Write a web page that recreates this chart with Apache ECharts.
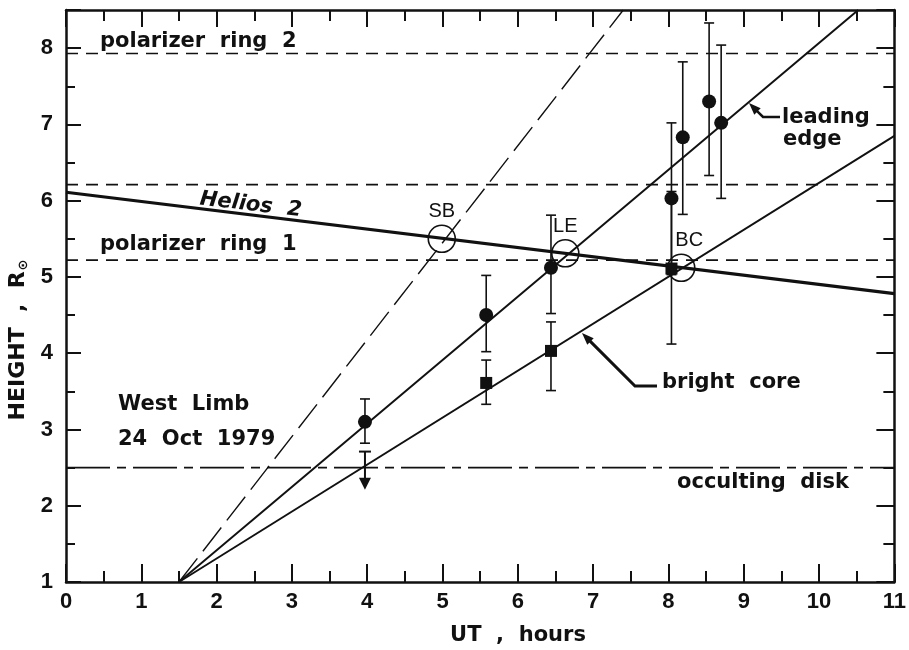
<!DOCTYPE html>
<html>
<head>
<meta charset="utf-8">
<script src="https://cdn.jsdelivr.net/npm/echarts@6/dist/echarts.min.js"></script>
<style>
  html, body { margin: 0; padding: 0; background: #fff; }
  #chart { width: 909px; height: 650px; }
</style>
</head>
<body>
<div id="chart"></div>
<script>
// Axis ranges
const xRange = [0, 11];
const yRange = [1, 8.5];

// Leading edge measurements (filled circles) with error bars
const edgeX  = [3.97, 5.58, 6.44, 8.04, 8.19, 8.54, 8.70];
const edgeY  = [3.10, 4.50, 5.12, 6.03, 6.83, 7.30, 7.02];
const edgeLo = [2.82, 4.02, 4.52, 5.03, 5.82, 6.33, 6.03];
const edgeHi = [3.40, 5.02, 5.81, 7.02, 7.82, 8.33, 8.04];

// Bright core measurements (filled squares) with error bars
const coreX  = [5.58, 6.44, 8.04];
const coreY  = [3.61, 4.03, 5.11];
const coreLo = [3.33, 3.51, 4.12];
const coreHi = [3.91, 4.41, 6.12];

// Upper limit at the earliest time
const limitX   = [3.97];
const limitTop = [2.71];
const limitTip = [2.21];

// Fitted trajectories, all starting from the same origin
const fitOrigin = [1.5, 1.0];
const sbEnd   = [7.40, 8.5];
const edgeEnd = [10.52, 8.5];
const coreEnd = [11.0, 6.85];

// Helios 2 line of sight
const heliosX = [0, 11];
const heliosY = [6.11, 4.78];

// Horizontal reference heights
const ring2Y     = 7.93;
const upperDashY = 6.21;
const ring1Y     = 5.22;
const occultY    = 2.50;

// Crossing points with the Helios 2 line
const crossNames = ['SB', 'LE', 'BC'];
const crossX = [4.99, 6.63, 8.17];
const crossY = [5.50, 5.31, 5.12];

const INK = '#111';
const LABEL_FONT = '"DejaVu Sans", sans-serif';
const NUM_FONT = '"Liberation Sans", Arial, sans-serif';

const chart = echarts.init(document.getElementById('chart'), null, { renderer: 'canvas' });

function hLine(y, dash, width) {
  return {
    type: 'line', silent: true, symbol: 'none', z: 2,
    data: [[xRange[0], y], [xRange[1], y]],
    lineStyle: { color: INK, width: width, type: dash }
  };
}

function fitLine(end, dash, width) {
  return {
    type: 'line', silent: true, symbol: 'none', z: 3,
    data: [fitOrigin, end],
    lineStyle: { color: INK, width: width, type: dash }
  };
}

function errorBarItem(params, api) {
  const x = api.value(0);
  const pLo = api.coord([x, api.value(1)]);
  const pHi = api.coord([x, api.value(2)]);
  const hw = 5;
  const st = { stroke: INK, lineWidth: 1.6 };
  return {
    type: 'group',
    children: [
      { type: 'line', shape: { x1: pLo[0], y1: pLo[1], x2: pHi[0], y2: pHi[1] }, style: st },
      { type: 'line', shape: { x1: pLo[0] - hw, y1: pLo[1], x2: pLo[0] + hw, y2: pLo[1] }, style: st },
      { type: 'line', shape: { x1: pHi[0] - hw, y1: pHi[1], x2: pHi[0] + hw, y2: pHi[1] }, style: st }
    ]
  };
}

function limitItem(params, api) {
  const x = api.value(0);
  const pTop = api.coord([x, api.value(1)]);
  const pTip = api.coord([x, api.value(2)]);
  const hw = 6, head = 12;
  return {
    type: 'group',
    children: [
      { type: 'line', shape: { x1: pTop[0], y1: pTop[1], x2: pTip[0], y2: pTip[1] - head + 1 },
        style: { stroke: INK, lineWidth: 2 } },
      { type: 'line', shape: { x1: pTop[0] - hw, y1: pTop[1], x2: pTop[0] + hw, y2: pTop[1] },
        style: { stroke: INK, lineWidth: 2 } },
      { type: 'polygon', shape: { points: [[pTip[0], pTip[1]], [pTip[0] - 6, pTip[1] - head], [pTip[0] + 6, pTip[1] - head]] },
        style: { fill: INK } }
    ]
  };
}

// Arrow annotation: polyline ending in a filled arrowhead
function arrow(points, width) {
  const n = points.length;
  const tip = points[n - 1], prev = points[n - 2];
  const dx = tip[0] - prev[0], dy = tip[1] - prev[1];
  const len = Math.hypot(dx, dy);
  const ux = dx / len, uy = dy / len;
  const L = 12, W = 4.5;
  const bx = tip[0] - ux * L, by = tip[1] - uy * L;
  const shaft = points.slice(0, n - 1).concat([[tip[0] - ux * (L - 2), tip[1] - uy * (L - 2)]]);
  return [
    { type: 'polyline', shape: { points: shaft }, style: { stroke: INK, lineWidth: width, fill: null }, z: 50 },
    { type: 'polygon', shape: { points: [tip, [bx - uy * W, by + ux * W], [bx + uy * W, by - ux * W]] },
      style: { fill: INK }, z: 50 }
  ];
}

function label(text, x, y, extra) {
  return Object.assign({
    type: 'text', x: x, y: y, z: 60,
    style: {
      text: text, fill: INK,
      font: 'bold 21px ' + LABEL_FONT,
      textAlign: 'left', textVerticalAlign: 'middle'
    }
  }, extra || {});
}

const baseAxis = {
  type: 'value',
  splitLine: { show: false },
  axisLine: { show: true, onZero: false, lineStyle: { color: INK, width: 2.5 } },
  axisTick: { show: true, inside: true, lineStyle: { color: INK, width: 2 } },
  minorTick: { show: true, splitNumber: 2, lineStyle: { color: INK, width: 2 } },
  axisLabel: { color: INK, fontFamily: NUM_FONT, fontWeight: 'bold', fontSize: 22 }
};

function axis(extra) {
  return echarts.util.merge(echarts.util.clone(baseAxis), extra, true);
}

const option = {
  animation: false,
  backgroundColor: '#fff',
  grid: { left: 66, right: 13, top: 10, bottom: 68, containLabel: false },
  xAxis: [
    axis({ position: 'bottom', min: xRange[0], max: xRange[1], interval: 1,
      axisTick: { length: 18 }, minorTick: { length: 11 }, axisLabel: { margin: 9 } }),
    axis({ position: 'top', min: xRange[0], max: xRange[1], interval: 1,
      axisTick: { length: 17 }, minorTick: { length: 11 }, axisLabel: { show: false } })
  ],
  yAxis: [
    axis({ position: 'left', min: yRange[0], max: yRange[1], interval: 1,
      axisTick: { length: 15 }, minorTick: { length: 9 },
      axisLabel: { margin: 13, showMaxLabel: false } }),
    axis({ position: 'right', min: yRange[0], max: yRange[1], interval: 1,
      axisTick: { length: 18 }, minorTick: { length: 11 }, axisLabel: { show: false } })
  ],
  series: [
    hLine(ring2Y, [12, 8], 1.6),
    hLine(upperDashY, [12, 8], 1.6),
    hLine(ring1Y, [12, 8], 1.6),
    hLine(occultY, [44, 7, 9, 7], 1.6),
    fitLine(sbEnd, [30, 9], 1.4),
    fitLine(edgeEnd, 'solid', 1.9),
    fitLine(coreEnd, 'solid', 1.9),
    {
      type: 'line', silent: true, symbol: 'none', z: 4,
      data: heliosX.map((x, i) => [x, heliosY[i]]),
      lineStyle: { color: INK, width: 3.2 }
    },
    {
      type: 'custom', silent: true, z: 5,
      renderItem: errorBarItem,
      data: edgeX.map((x, i) => [x, edgeLo[i], edgeHi[i]])
    },
    {
      type: 'custom', silent: true, z: 5,
      renderItem: errorBarItem,
      data: coreX.map((x, i) => [x, coreLo[i], coreHi[i]])
    },
    {
      type: 'custom', silent: true, z: 5,
      renderItem: limitItem,
      data: limitX.map((x, i) => [x, limitTop[i], limitTip[i]])
    },
    {
      type: 'scatter', silent: true, z: 6,
      symbol: 'circle', symbolSize: 14,
      itemStyle: { color: INK, opacity: 1 },
      data: edgeX.map((x, i) => [x, edgeY[i]])
    },
    {
      type: 'scatter', silent: true, z: 6,
      symbol: 'rect', symbolSize: 12,
      itemStyle: { color: INK, opacity: 1 },
      data: coreX.map((x, i) => [x, coreY[i]])
    },
    {
      type: 'scatter', silent: true, z: 7,
      symbol: 'circle', symbolSize: 27,
      itemStyle: { color: 'rgba(0,0,0,0)', borderColor: INK, borderWidth: 1.6, opacity: 1 },
      label: {
        show: true, position: 'top', distance: 3,
        color: INK, fontFamily: NUM_FONT, fontSize: 20,
        formatter: p => p.name
      },
      data: crossX.map((x, i) => ({
        name: crossNames[i], value: [x, crossY[i]],
        label: crossNames[i] === 'BC' ? { offset: [8, 0] } : undefined
      }))
    }
  ],
  graphic: [
    label('polarizer  ring  2', 100, 42),
    label('polarizer  ring  1', 100, 245),
    label('Helios  2', 200, 199, {
      rotation: -0.115,
      style: { text: 'Helios  2', fill: INK, font: 'italic bold 21px ' + LABEL_FONT,
        textAlign: 'left', textVerticalAlign: 'middle' }
    }),
    label('West  Limb', 118, 405),
    label('24  Oct  1979', 118, 440),
    label('leading', 782, 118),
    label('edge', 783, 140),
    label('bright  core', 662, 383),
    label('occulting  disk', 677, 483),
    label('UT  ,  hours', 518, 636, {
      style: { text: 'UT  ,  hours', fill: INK, font: 'bold 21px ' + LABEL_FONT,
        textAlign: 'center', textVerticalAlign: 'middle' }
    }),
    {
      type: 'text', x: 18, y: 340, rotation: Math.PI / 2, z: 60,
      style: {
        text: '{m|HEIGHT  ,  R}{s|⊙}', fill: INK,
        textAlign: 'center', textVerticalAlign: 'middle',
        rich: {
          m: { font: 'bold 22px ' + LABEL_FONT, fill: INK },
          s: { font: 'bold 13px ' + LABEL_FONT, fill: INK, padding: [12, 0, 0, 1] }
        }
      }
    }
  ].concat(
    arrow([[780, 117], [763, 117], [749, 103]], 2.5),
    arrow([[657, 386], [635, 386], [582, 333]], 3)
  )
};

chart.setOption(option);
</script>
</body>
</html>
